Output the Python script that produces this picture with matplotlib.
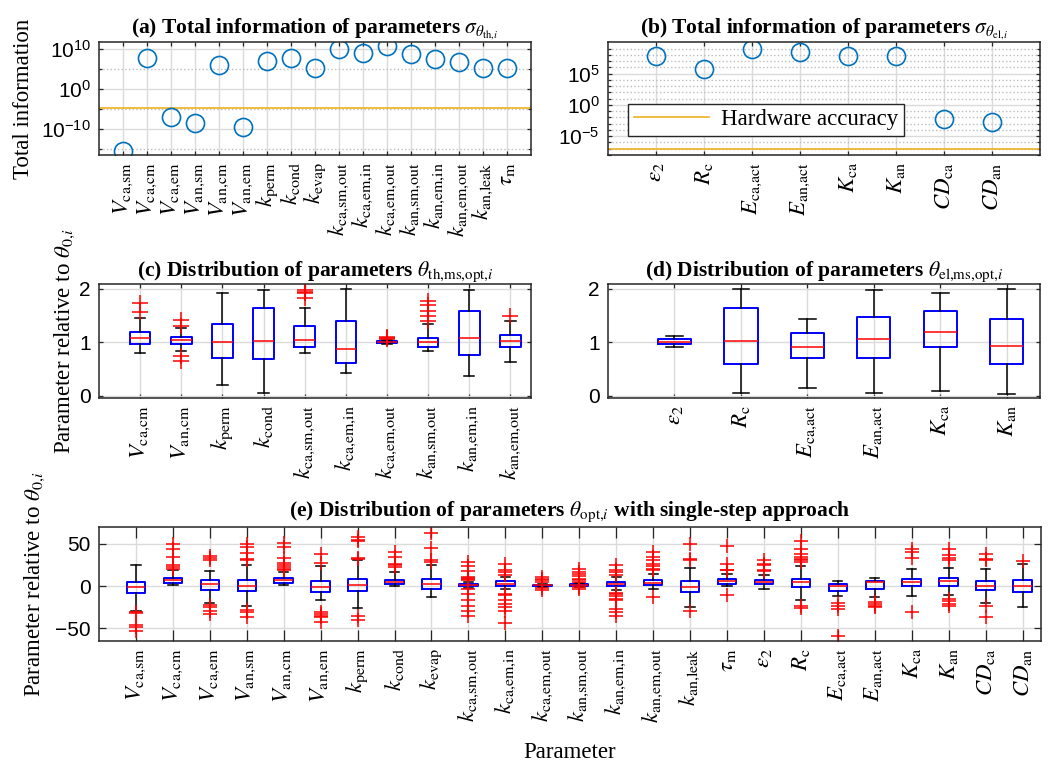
import numpy as np
import matplotlib.pyplot as plt
from matplotlib.ticker import FixedLocator, NullFormatter

plt.rcParams['font.family'] = 'Liberation Serif'
plt.rcParams['mathtext.fontset'] = 'stix'

# ---------------- data ----------------
# "{,}" keeps mathtext from adding a space after the commas
th_names = [r'$V_{\mathrm{ca{,}sm}}$', r'$V_{\mathrm{ca{,}cm}}$', r'$V_{\mathrm{ca{,}em}}$',
            r'$V_{\mathrm{an{,}sm}}$', r'$V_{\mathrm{an{,}cm}}$', r'$V_{\mathrm{an{,}em}}$',
            r'$k_{\mathrm{perm}}$', r'$k_{\mathrm{cond}}$', r'$k_{\mathrm{evap}}$',
            r'$k_{\mathrm{ca{,}sm{,}out}}$', r'$k_{\mathrm{ca{,}em{,}in}}$', r'$k_{\mathrm{ca{,}em{,}out}}$',
            r'$k_{\mathrm{an{,}sm{,}out}}$', r'$k_{\mathrm{an{,}em{,}in}}$', r'$k_{\mathrm{an{,}em{,}out}}$',
            r'$k_{\mathrm{an{,}leak}}$', r'$\tau_{\mathrm{m}}$']
# total information, log10 values
th_info_log = [-15.5, 7.9, -7.0, -8.5, 6.1, -9.5, 7.05, 7.9, 5.3,
               10.0, 9.0, 10.9, 8.7, 7.5, 6.7, 5.3, 5.3]

el_names = [r'$\epsilon_2$', r'$R_{\mathrm{c}}$', r'$E_{\mathrm{ca{,}act}}$', r'$E_{\mathrm{an{,}act}}$',
            r'$K_{\mathrm{ca}}$', r'$K_{\mathrm{an}}$', r'$CD_{\mathrm{ca}}$', r'$CD_{\mathrm{an}}$']
el_info_log = [7.8, 5.7, 9.0, 8.5, 7.8, 7.8, -2.2, -2.8]

hw_acc_th = 1.5e-5
hw_acc_el = 1e-7

# (c) multi-step thermal parameters
c_names = [th_names[1], th_names[4], th_names[6], th_names[7], th_names[9],
           th_names[10], th_names[11], th_names[12], th_names[13], th_names[14]]
c_med = [1.09, 1.04, 1.00, 1.03, 1.04, 0.88, 1.01, 1.00, 1.09, 1.02]
c_q1 = [0.96, 0.975, 0.70, 0.69, 0.91, 0.62, 0.99, 0.91, 0.76, 0.91]
c_q3 = [1.20, 1.10, 1.34, 1.64, 1.30, 1.39, 1.02, 1.09, 1.58, 1.13]
c_lo = [0.81, 0.83, 0.21, 0.06, 0.81, 0.42, 0.96, 0.83, 0.37, 0.64]
c_hi = [1.45, 1.26, 1.92, 1.98, 1.65, 2.00, 1.04, 1.34, 1.98, 1.39]
c_fl = [[1.56, 1.74], [1.31, 1.41, 0.74, 0.65], [], [], [1.82, 1.92, 1.94, 1.97],
        [], [1.06, 1.08, 1.10], [1.40, 1.50, 1.59, 1.70, 1.78], [], [1.49]]

# (d) multi-step electrochemical parameters
d_names = el_names[:6]
d_med = [1.00, 1.03, 0.91, 1.07, 1.20, 0.94]
d_q1 = [0.96, 0.59, 0.70, 0.70, 0.91, 0.59]
d_q3 = [1.06, 1.65, 1.17, 1.47, 1.59, 1.43]
d_lo = [0.91, 0.05, 0.15, 0.05, 0.09, 0.03]
d_hi = [1.11, 1.99, 1.44, 1.97, 1.92, 1.99]
d_fl = [[], [], [], [], [], []]

# (e) single-step approach, all parameters
e_names = th_names + el_names
e_med = [-1.6, 7.5, 2.0, 0.0, 7.5, -0.8, 1.6, 4.7, 2.8, 1.6, 2.4, 1.0, 1.2,
         2.0, 3.6, -1.2, 6.3, 4.7, 4.7, -0.4, 4.7, 4.7, 5.9, -0.4, -0.4]
e_q1 = [-8.7, 3.6, -4.3, -5.9, 3.6, -7.1, -6.3, 2.0, -3.2, 0.4, 0.0, 0.5, 0.4,
        -0.4, 0.8, -7.5, 2.8, 2.0, -1.2, -6.3, -3.2, -0.4, 0.4, -4.3, -7.1]
e_q3 = [4.7, 9.5, 6.7, 7.5, 9.1, 6.3, 7.9, 7.5, 7.9, 2.8, 5.9, 1.5, 2.0,
        4.7, 6.7, 5.9, 7.9, 6.7, 8.7, 2.0, 5.9, 8.3, 9.1, 5.9, 6.7]
e_lo = [-29.0, 0.8, -19.8, -24.0, 0.8, -16.2, -25.7, 0.4, -13.0, -2.0, -3.2, -0.5, -0.5,
        -5.0, -4.0, -24.5, -0.4, -4.0, -17.0, -12.0, -12.6, -11.9, -10.3, -20.2, -24.9]
e_hi = [24.5, 18.6, 17.4, 24.9, 16.6, 23.7, 30.4, 16.2, 24.5, 5.0, 10.7, 2.5, 3.5,
        10.7, 14.6, 21.0, 14.6, 13.4, 24.1, 5.9, 9.9, 20.5, 21.7, 20.2, 26.5]
e_fl = [[-31, -32, -46.6, -48.6, -53],
        [20.5, 22.5, 24.5, 34, 44, 50],
        [31, 33, 36, -22, -25, -29, -33],
        [30.4, 32.4, 39, 46, 50, -28, -31, -36],
        [18.6, 20.5, 22.5, 24.5, 27, 33.6, 46, 51],
        [27, 38, -31, -33, -35, -37, -43],
        [31.6, 33.6, 53, 55, 58, -35, -40],
        [22.5, 24.5, 26, 34.4, 40],
        [28.5, 30.4, 45, 63],
        [6.7, 7.9, 9.5, 11, 17.8, 23.3, 28.5, -4, -9, -16, -24, -29.6, -35],
        [12.6, 16.6, 19.4, 26.5, -9, -11, -17, -21, -25, -29, -44],
        [4.7, 6.7, 8, 10.7, -2, -5],
        [4.7, 6.7, 8.7, 11.5, 14.6, 17, 20.5, -1.5, -3.2],
        [12.6, 16.6, 18.6, 25.3, -7.9, -9.9, -12.3, -15, -17, -27, -31, -35],
        [18.6, 20.5, 23.3, 26.5, 30.4, 34.4, 40.3, -13],
        [30.4, 32.4, 50, -28.9],
        [18.6, 19.4, 26.5, 47, -11],
        [17.4, 19.4, 24.5, 26, 30.4],
        [28.5, 30.4, 32.4, 35, 38, 44, 54, -23.7, -26],
        [-19.8, -23, -27, -58.5],
        [-19, -21, -23, -24.9],
        [33.6, 40.3, 44, -30.8],
        [30.4, 33.2, 36.4, 44, -15, -17.8, -21, -24],
        [30.4, 32.4, 38.3, -24, -36.8],
        [30]]

# ---------------- layout ----------------
W, H = 1051, 767
fig = plt.figure(figsize=(W / 100, H / 100), dpi=100)


def px_axes(l, t, r, b):
    return fig.add_axes([l / W, 1 - b / H, (r - l) / W, (b - t) / H])


def style(ax, ticklen=3):
    ax.set_axisbelow(True)
    ax.grid(True, which='major', color='#dbdbdb', lw=1)
    ax.tick_params(which='both', direction='in', top=True, right=True,
                   color='#262626', width=0.9)
    ax.tick_params(which='major', length=ticklen)
    ax.tick_params(which='minor', length=2)
    ax.tick_params(axis='y', labelsize=15, labelfontfamily='Liberation Sans', pad=6)
    ax.tick_params(axis='x', labelsize=16.5, pad=5)
    for s in ax.spines.values():
        s.set_color('#262626')
        s.set_linewidth(1.1)


def stats(med, q1, q3, lo, hi, fl):
    return [dict(med=m, q1=a, q3=b, whislo=c, whishi=d, fliers=f)
            for m, a, b, c, d, f in zip(med, q1, q3, lo, hi, fl)]


def boxes(ax, st, ms=10):
    ax.bxp(st, positions=np.arange(1, len(st) + 1), widths=0.5, capwidths=0.25,
           boxprops=dict(color='#0000ff', lw=1.4),
           medianprops=dict(color='#ff0000', lw=1.1),
           whiskerprops=dict(color='black', lw=1.1),
           capprops=dict(color='black', lw=1.1),
           flierprops=dict(marker='+', markeredgecolor='#ff0000', markersize=ms,
                           mew=1.1, linestyle='none'),
           manage_ticks=False)


def ylab(ax, text, right_px):
    # right_px: pixel x of the label's right edge
    ax.set_ylabel(text, fontsize=16.5)
    l = ax.get_position().x0 * W
    w = ax.get_position().width * W
    ax.yaxis.set_label_coords((right_px - l) / w, 0.5)


blue = '#0072BD'
orange = '#EDB120'
title_kw = dict(fontsize=15.5, fontweight='bold')

# (a)
ax = px_axes(99, 42, 531, 155)
style(ax)
xa = np.arange(1, len(th_names) + 1)
ax.axhline(hw_acc_th, color=orange, lw=1.2)
ax.plot(xa, 10.0 ** np.array(th_info_log), 'o', mfc='none', mec=blue, ms=13, mew=1.2)
ax.set_yscale('log')
ax.set_ylim(10 ** -16.6, 10 ** 11.8)
ax.yaxis.set_major_locator(FixedLocator([1e-10, 1, 1e10]))
ax.yaxis.set_minor_locator(FixedLocator([1e-15, 1e-5, 1e5]))
ax.yaxis.set_minor_formatter(NullFormatter())
ax.grid(True, which='minor', axis='y', color='#bdbdbd', ls=':', lw=1)
ax.set_xlim(0, 18)
ax.set_xticks(xa, th_names, rotation=90)
ax.set_title(r'(a) Total information of parameters $\sigma_{\theta_{\mathrm{th}{,}i}}$', pad=5, **title_kw)
ylab(ax, 'Total information', 34)

# (b)
ax = px_axes(608, 42, 1040, 155)
style(ax)
xb = np.arange(1, len(el_names) + 1)
ax.axhline(hw_acc_el, color=orange, lw=1.2, label='Hardware accuracy')
ax.plot(xb, 10.0 ** np.array(el_info_log), 'o', mfc='none', mec=blue, ms=13, mew=1.2)
ax.set_yscale('log')
ax.set_ylim(1e-8, 1.2e10)
ax.yaxis.set_major_locator(FixedLocator([1e-5, 1, 1e5]))
ax.yaxis.set_minor_locator(FixedLocator([10.0 ** k for k in range(-8, 11) if k % 5]))
ax.yaxis.set_minor_formatter(NullFormatter())
ax.grid(True, which='minor', axis='y', color='#bdbdbd', ls=':', lw=1)
ax.set_xlim(0, 9)
ax.set_xticks(xb, el_names, rotation=90)
leg = ax.legend(loc='lower left', bbox_to_anchor=(0.046, 0.168), borderaxespad=0,
                fontsize=16.5, fancybox=False, framealpha=1, edgecolor='#262626',
                handlelength=3.3, borderpad=0.25, handletextpad=0.5)
leg.get_frame().set_linewidth(1.0)
ax.set_title(r'(b) Total information of parameters $\sigma_{\theta_{\mathrm{el}{,}i}}$', pad=5, **title_kw)

# (c)
ax = px_axes(99, 284, 531, 398)
style(ax)
boxes(ax, stats(c_med, c_q1, c_q3, c_lo, c_hi, c_fl), ms=11)
ax.set_xlim(0, 10.5)
ax.set_ylim(-0.04, 2.09)
ax.set_yticks([0, 1, 2])
ax.set_xticks(np.arange(1, len(c_names) + 1), c_names, rotation=90)
ax.set_title(r'(c) Distribution of parameters $\theta_{\mathrm{th{,}ms{,}opt}{,}i}$', pad=6, **title_kw)
ylab(ax, r'Parameter relative to $\theta_{0{,}i}$', 77)

# (d)
ax = px_axes(608, 284, 1040, 398)
style(ax)
boxes(ax, stats(d_med, d_q1, d_q3, d_lo, d_hi, d_fl), ms=11)
ax.set_xlim(0, 6.5)
ax.set_ylim(-0.04, 2.09)
ax.set_yticks([0, 1, 2])
ax.set_xticks(np.arange(1, len(d_names) + 1), d_names, rotation=90)
ax.set_title(r'(d) Distribution of parameters $\theta_{\mathrm{el{,}ms{,}opt}{,}i}$', pad=6, **title_kw)

# (e)
ax = px_axes(99, 527, 1041, 641)
style(ax)
ax.tick_params(axis='x', which='major', length=8)
ax.tick_params(axis='y', which='major', length=5)
boxes(ax, stats(e_med, e_q1, e_q3, e_lo, e_hi, e_fl), ms=10)
ax.set_xlim(0, 25.5)
ax.set_ylim(-65, 70)
ax.set_yticks([-50, 0, 50])
ax.set_xticks(np.arange(1, len(e_names) + 1), e_names, rotation=90)
ax.set_title(r'(e) Distribution of parameters $\theta_{\mathrm{opt}{,}i}$ with single-step approach',
             pad=8, **title_kw)
ylab(ax, r'Parameter relative to $\theta_{0{,}i}$', 47)

fig.text(570 / W, 1 - 752 / H, 'Parameter', ha='center', va='center', fontsize=16.5)

fig.savefig('out.png', dpi=100)
